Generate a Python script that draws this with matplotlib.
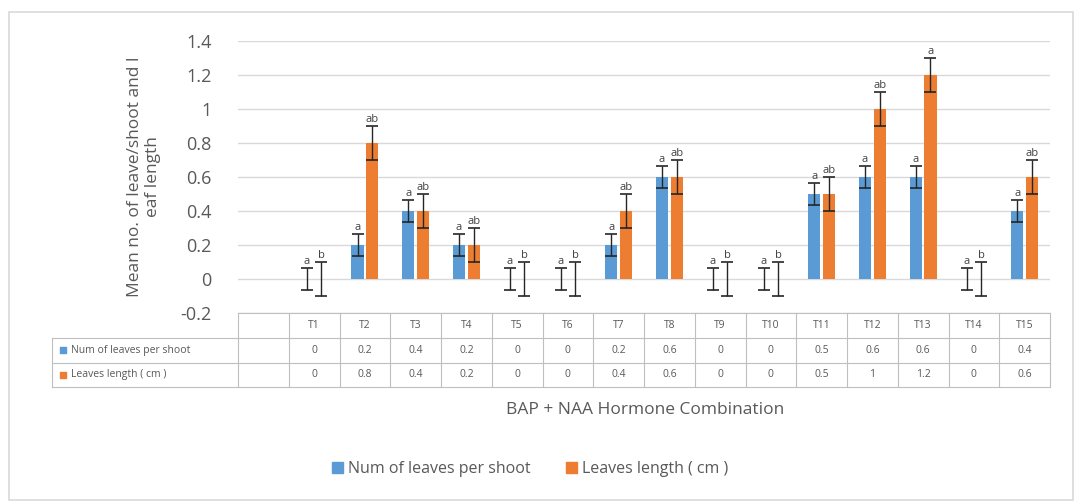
import matplotlib.pyplot as plt
from matplotlib.patches import Rectangle
import numpy as np

treatments = ["T1", "T2", "T3", "T4", "T5", "T6", "T7", "T8", "T9", "T10",
              "T11", "T12", "T13", "T14", "T15"]
num_leaves = [0, 0.2, 0.4, 0.2, 0, 0, 0.2, 0.6, 0, 0, 0.5, 0.6, 0.6, 0, 0.4]
leaf_length = [0, 0.8, 0.4, 0.2, 0, 0, 0.4, 0.6, 0, 0, 0.5, 1, 1.2, 0, 0.6]
num_err = [0.065] * 15
len_err = [0.1] * 15
num_letters = ["a"] * 15
len_letters = ["b", "ab", "ab", "ab", "b", "b", "ab", "ab", "b", "b",
               "ab", "ab", "a", "b", "ab"]
series_names = ["Num of leaves per shoot", "Leaves length ( cm )"]
blue = "#5B9BD5"
orange = "#ED7D31"
grey = "#595959"

plt.rcParams['font.family'] = ['Open Sans', 'DejaVu Sans']

fig = plt.figure(figsize=(10.82, 5.04), dpi=100)
fig.add_artist(Rectangle((0.008, 0.008), 0.984, 0.968, transform=fig.transFigure,
                         fill=False, edgecolor="#D9D9D9", linewidth=1.2))

ax = fig.add_axes([238 / 1082, 1 - 313 / 504, 812 / 1082, 272 / 504])
x = np.arange(len(treatments))
w = 0.24
off = 0.145

ax.bar(x - off, num_leaves, w, color=blue, zorder=2)
ax.bar(x + off, leaf_length, w, color=orange, zorder=2)
ax.errorbar(x - off, num_leaves, yerr=num_err, fmt="none", ecolor="#262626",
            elinewidth=1, capsize=4, capthick=1.2, zorder=3)
ax.errorbar(x + off, leaf_length, yerr=len_err, fmt="none", ecolor="#262626",
            elinewidth=1, capsize=4, capthick=1.2, zorder=3)
for i in range(len(x)):
    ax.text(x[i] - off, num_leaves[i] + num_err[i] + 0.003, num_letters[i],
            ha="center", va="bottom", fontsize=8, color="#404040")
    ax.text(x[i] + off, leaf_length[i] + len_err[i] + 0.003, len_letters[i],
            ha="center", va="bottom", fontsize=8, color="#404040")

ax.set_xlim(-1.5, len(x) - 0.5)
ax.set_ylim(-0.2, 1.4)
yt = np.arange(-0.2, 1.41, 0.2)
ax.set_yticks(yt)
ax.set_yticklabels([f"{v:g}" if abs(v) > 1e-9 else "0" for v in yt],
                   fontsize=13, color=grey)
ax.tick_params(axis="y", length=0, pad=19)
ax.set_xticks([])
ax.grid(axis="y", color="#D9D9D9", linewidth=1, zorder=0)
for s in ax.spines.values():
    s.set_visible(False)
ax.set_ylabel("Mean no. of leave/shoot and l\neaf length", fontsize=12.5,
              color=grey, labelpad=14, linespacing=1.2)

# data table under the plot
trans = ax.get_xaxis_transform()
rows = [0, -0.092, -0.182, -0.272]
left = -1.5 - 186 / 50.75
lc = "#BFBFBF"
ax.plot([-1.5, len(x) - 0.5], [rows[0]] * 2, transform=trans, clip_on=False,
        color=lc, lw=0.8)
for r in rows[1:]:
    ax.plot([left, len(x) - 0.5], [r] * 2, transform=trans, clip_on=False,
            color=lc, lw=0.8)
for e in np.arange(-1.5, len(x), 1.0):
    ax.plot([e, e], [rows[0], rows[3]], transform=trans, clip_on=False,
            color=lc, lw=0.8)
ax.plot([left, left], [rows[1], rows[3]], transform=trans, clip_on=False,
        color=lc, lw=0.8)

for i, t in enumerate(treatments):
    ax.text(x[i], (rows[0] + rows[1]) / 2, t, transform=trans, ha="center",
            va="center", fontsize=7.5, color=grey)
    ax.text(x[i], (rows[1] + rows[2]) / 2, f"{num_leaves[i]:g}", transform=trans,
            ha="center", va="center", fontsize=7.5, color=grey)
    ax.text(x[i], (rows[2] + rows[3]) / 2, f"{leaf_length[i]:g}", transform=trans,
            ha="center", va="center", fontsize=7.5, color=grey)

for j, (name, c) in enumerate(zip(series_names, [blue, orange])):
    ym = (rows[j + 1] + rows[j + 2]) / 2
    ax.scatter([left + 0.22], [ym], marker="s", s=22, color=c, transform=trans,
               clip_on=False)
    ax.text(left + 0.38, ym, name, transform=trans, ha="left", va="center",
            fontsize=7.5, color=grey)

fig.text(645 / 1082, 1 - 410 / 504, "BAP + NAA Hormone Combination",
         ha="center", va="center", fontsize=12.5, color=grey)

handles = [Rectangle((0, 0), 1, 1, color=blue), Rectangle((0, 0), 1, 1, color=orange)]
fig.legend(handles, series_names, loc="center", bbox_to_anchor=(530 / 1082, 1 - 469 / 504),
           ncol=2, frameon=False, fontsize=11.5, handlelength=0.7, handleheight=0.7,
           handletextpad=0.3, columnspacing=2.2, labelcolor=grey)

fig.savefig("out.png", dpi=100)
